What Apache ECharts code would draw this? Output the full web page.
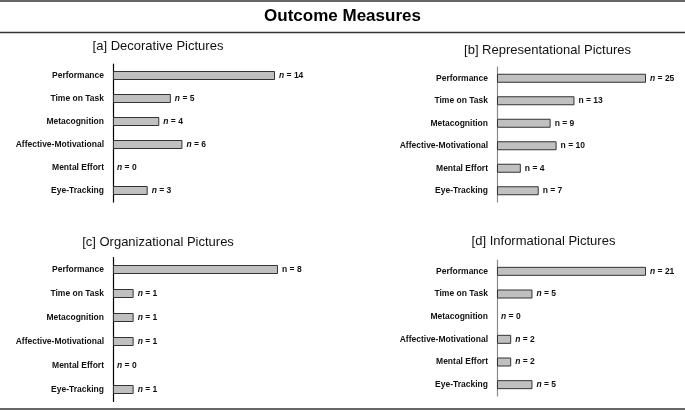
<!DOCTYPE html>
<html>
<head>
<meta charset="utf-8">
<script src="https://cdn.jsdelivr.net/npm/echarts@6/dist/echarts.min.js"></script>
<style>html,body{margin:0;padding:0;background:#fff}#c{width:685px;height:411px}</style>
</head>
<body>
<div id="c"></div>
<script>
const categories = ['Performance', 'Time on Task', 'Metacognition', 'Affective-Motivational', 'Mental Effort', 'Eye-Tracking'];
const panelTitles = ['[a] Decorative Pictures', '[b] Representational Pictures', '[c] Organizational Pictures', '[d] Informational Pictures'];
const decorative = [14, 5, 4, 6, 0, 3];
const representational = [25, 13, 9, 10, 4, 7];
const organizational = [8, 1, 1, 1, 0, 1];
const informational = [21, 5, 0, 2, 2, 5];
const mainTitle = 'Outcome Measures';

const seriesData = [decorative, representational, organizational, informational];
// layout / style per panel
const layout = [
  {left: 113, top: 64, width: 162, height: 138, tx: 158, ty: 46.5, axis: '#000', plain: []},
  {left: 497, top: 67, width: 149, height: 135, tx: 547.5, ty: 50, axis: '#8a8a8a', plain: [1,2,3,4,5]},
  {left: 113, top: 257.5, width: 165, height: 144, tx: 158, ty: 242, axis: '#000', plain: [0]},
  {left: 497, top: 260, width: 149, height: 136, tx: 543.5, ty: 241.5, axis: '#8a8a8a', plain: []}
];

const FONT = 'Liberation Sans, Arial, sans-serif';
const grid = [], xAxis = [], yAxis = [], series = [], graphic = [];
seriesData.forEach((vals, i) => {
  const L = layout[i];
  grid.push({left: L.left, top: L.top, width: L.width, height: L.height, containLabel: false});
  xAxis.push({type: 'value', gridIndex: i, min: 0, max: Math.max(...vals), show: false, splitLine: {show: false}});
  yAxis.push({
    type: 'category', gridIndex: i, data: categories, inverse: true,
    axisLine: {show: true, lineStyle: {color: L.axis, width: 1.2}},
    axisTick: {show: false},
    axisLabel: {margin: 9, fontFamily: FONT, fontWeight: 'bold', fontSize: 8.5, color: '#111'}
  });
  series.push({
    type: 'bar', xAxisIndex: i, yAxisIndex: i, barWidth: 9, z: 1,
    data: vals.map(v => v === 0 ? {value: v, itemStyle: {borderWidth: 0, opacity: 0}} : v),
    itemStyle: {color: '#c0c0c0', borderColor: '#333', borderWidth: 1},
    label: {
      show: true, position: 'right', distance: 4, opacity: 1,
      fontFamily: FONT, fontWeight: 'bold', fontSize: 8.5, color: '#111',
      formatter: p => (L.plain.indexOf(p.dataIndex) >= 0 ? '{p|n}' : '{i|n}') + ' = ' + p.value,
      rich: {
        i: {fontStyle: 'italic', fontWeight: 'bold', fontSize: 8.5, fontFamily: FONT, color: '#111'},
        p: {fontStyle: 'normal', fontWeight: 'bold', fontSize: 8.5, fontFamily: FONT, color: '#111'}
      }
    }
  });
  graphic.push({type: 'text', style: {text: panelTitles[i], x: L.tx, y: L.ty, align: 'center', verticalAlign: 'middle',
    font: 'normal 13px "Liberation Sans", Arial, sans-serif', fill: '#111'}});
});

graphic.push({type: 'text', style: {text: mainTitle, x: 342.5, y: 16.5, align: 'center', verticalAlign: 'middle',
  font: 'bold 17px "Liberation Sans", Arial, sans-serif', fill: '#000'}});
[1, 32.5, 409].forEach(y => graphic.push({type: 'line', shape: {x1: 0, y1: y, x2: 685, y2: y}, style: {stroke: '#333', lineWidth: 1.5}}));

const chart = echarts.init(document.getElementById('c'), null, {renderer: 'canvas'});
chart.setOption({animation: false, backgroundColor: '#fff', grid, xAxis, yAxis, series, graphic});
</script>
</body>
</html>
